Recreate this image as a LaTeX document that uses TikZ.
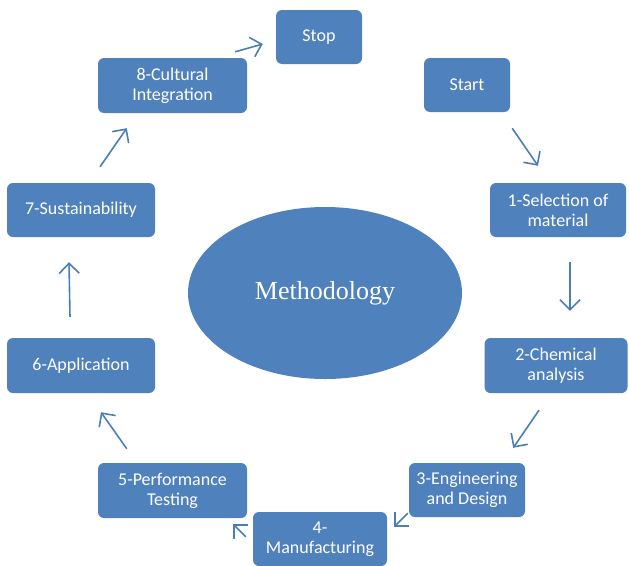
\documentclass[tikz,border=0pt]{standalone}
\usepackage{fontspec}
\setmainfont{Carlito}
\newfontfamily\methfont{Liberation Serif}
\usetikzlibrary{shapes.geometric,arrows.meta}
\definecolor{boxblue}{HTML}{4F81BD}
\definecolor{arrowblue}{HTML}{4A7EBB}

\begin{document}
\begin{tikzpicture}[x=1pt, y=-1pt,
	% Define the style for the boxes and the arrows
	stage/.style={rectangle, rounded corners=6pt, fill=boxblue, text=white, align=center, minimum height=54pt, inner sep=2pt, font=\fontsize{18}{20}\selectfont},
	flow/.style={arrowblue, line width=1.6pt, -{Straight Barb[length=10pt,width=20pt]}}
	]
	\useasboundingbox (0,0) rectangle (629,565);
	
	% --- CENTRE ---
	\node (meth) at (325,293) [ellipse, fill=boxblue, minimum width=274pt, minimum height=172pt, inner sep=0pt, text=white, font=\methfont\fontsize{26}{30}\selectfont] {Methodology};
	
	% --- STAGES ---
	% Format: \node (name) at (x,y) [stage, width] {text};
	
	\node (stop)  at (319,37)      [stage, minimum width=86pt]  {Stop};
	\node (start) at (467,85)      [stage, minimum width=86pt]  {Start};
	\node (sel)   at (558,210)     [stage, minimum width=136pt] {1-Selection of\\material};
	\node (chem)  at (556,365.5)   [stage, minimum width=143pt, minimum height=55pt] {2-Chemical\\analysis};
	\node (eng)   at (467,490)     [stage, minimum width=116pt] {3-Engineering\\and Design};
	\node (manu)  at (320,539)     [stage, minimum width=134pt] {4-\\Manufacturing};
	\node (perf)  at (172.5,490.5) [stage, minimum width=149pt, minimum height=55pt] {5-Performance\\Testing};
	\node (app)   at (81,365.5)    [stage, minimum width=148pt, minimum height=55pt] {6-Application};
	\node (sust)  at (81,210)      [stage, minimum width=148pt] {7-Sustainability};
	\node (cult)  at (172.5,85.5)  [stage, minimum width=149pt, minimum height=55pt] {8-Cultural\\Integration};
	
	% --- ARROWS ---
	% The arrows float between the boxes, so each end is shifted off an anchor.
	
	\draw[flow] ([shift={(2,16)}]start.south east) -- ([shift={(-20,-17)}]sel.north);
	\draw[flow] ([shift={(12,25)}]sel.south)        -- ([shift={(14,-27)}]chem.north);
	\draw[flow] ([shift={(-17,17)}]chem.south)      -- ([shift={(-12,-15)}]eng.north east);
	\draw[flow] ([shift={(-1,-4)}]eng.south west)   -- ([shift={(7,15)}]manu.north east);
	\draw[flow] ([shift={(-7,25)}]manu.north west)  -- ([shift={(-14,6)}]perf.south east);
	\draw[flow] ([shift={(29,-14)}]perf.north west) -- ([shift={(20,19)}]app.south);
	\draw[flow] ([shift={(-11,-21)}]app.north)      -- ([shift={(-12,25)}]sust.south);
	\draw[flow] ([shift={(19,-16)}]sust.north)      -- ([shift={(29,15)}]cult.south west);
	\draw[flow] ([shift={(-12,-6)}]cult.north east) -- ([shift={(-13,7)}]stop.west);
	
\end{tikzpicture}
\end{document}
